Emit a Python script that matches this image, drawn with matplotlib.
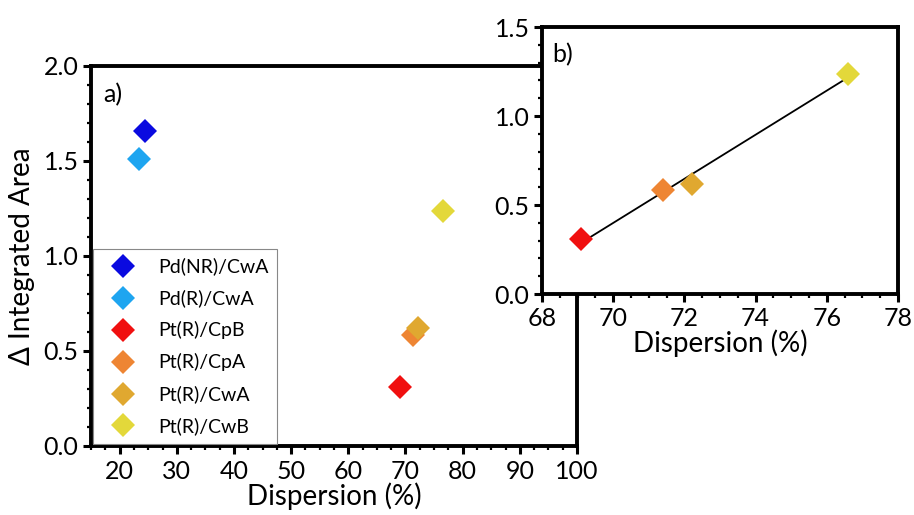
import numpy as np
import matplotlib
matplotlib.use("Agg")
import matplotlib.pyplot as plt
from matplotlib.ticker import AutoMinorLocator, FormatStrFormatter

plt.rcParams['font.family'] = ['Lato', 'DejaVu Sans']

labels = ["Pd(NR)/CwA", "Pd(R)/CwA", "Pt(R)/CpB", "Pt(R)/CpA", "Pt(R)/CwA", "Pt(R)/CwB"]
dispersion = [24.5, 23.4, 69.1, 71.4, 72.2, 76.6]
delta_area = [1.66, 1.51, 0.31, 0.585, 0.62, 1.235]
colors = ["#0a0ae0", "#1ea5f0", "#f01010", "#ee8533", "#e0a830", "#e3d83a"]

# inset only uses the Pt(R) samples
pt_idx = [2, 3, 4, 5]

fig = plt.figure(figsize=(9.14, 5.15), dpi=100)

def style_axes(ax, fs=18, pad=3):
    for s in ax.spines.values():
        s.set_linewidth(2.8)
    ax.tick_params(which='major', direction='out', length=6, width=2.2,
                   labelsize=fs, pad=pad)
    ax.tick_params(which='minor', direction='out', length=3, width=1.6)
    ax.xaxis.set_minor_locator(AutoMinorLocator(4))
    ax.yaxis.set_minor_locator(AutoMinorLocator(5))
    ax.yaxis.set_major_formatter(FormatStrFormatter('%.1f'))

# main panel a)
ax = fig.add_axes([0.0996, 0.134, 0.5317, 0.7379])
for i in range(len(labels)):
    ax.plot(dispersion[i], delta_area[i], 'D', color=colors[i], markersize=12,
            markeredgewidth=0, label=labels[i])
ax.set_xlim(15, 100)
ax.set_ylim(0, 2.0)
ax.set_xticks([20, 30, 40, 50, 60, 70, 80, 90, 100])
ax.set_yticks([0.0, 0.5, 1.0, 1.5, 2.0])
style_axes(ax, pad=4)
ax.tick_params(axis='y', pad=3)
ax.set_xlabel("Dispersion (%)", fontsize=20, labelpad=0)
ax.set_ylabel("\u0394 Integrated Area", fontsize=20, labelpad=6)
ax.text(0.025, 0.955, "a)", transform=ax.transAxes, fontsize=18, va='top')
leg = ax.legend(loc='lower left', bbox_to_anchor=(0.0, 0.0), borderaxespad=0.1,
                frameon=True, fancybox=False, framealpha=1, edgecolor='#888888',
                fontsize=14, labelspacing=0.72, handletextpad=0.7,
                borderpad=0.45, handlelength=2.2)
leg.get_frame().set_linewidth(0.8)

# inset panel b)
axb = fig.add_axes([0.593, 0.4291, 0.3895, 0.5184])
axb.set_facecolor('white')
xs = np.array([dispersion[i] for i in pt_idx])
ys = np.array([delta_area[i] for i in pt_idx])
fit = np.polyfit(xs, ys, 1)
axb.plot([xs.min(), xs.max()], np.polyval(fit, [xs.min(), xs.max()]),
         color='black', linewidth=1.3, zorder=2)
for i in pt_idx:
    axb.plot(dispersion[i], delta_area[i], 'D', color=colors[i], markersize=12,
             markeredgewidth=0, zorder=3)
axb.set_xlim(68, 78)
axb.set_ylim(0, 1.5)
axb.set_xticks([68, 70, 72, 74, 76, 78])
axb.set_yticks([0.0, 0.5, 1.0, 1.5])
style_axes(axb)
axb.set_xlabel("Dispersion (%)", fontsize=20, labelpad=0)
axb.text(0.03, 0.94, "b)", transform=axb.transAxes, fontsize=18, va='top')

fig.savefig("out.png", dpi=100)
